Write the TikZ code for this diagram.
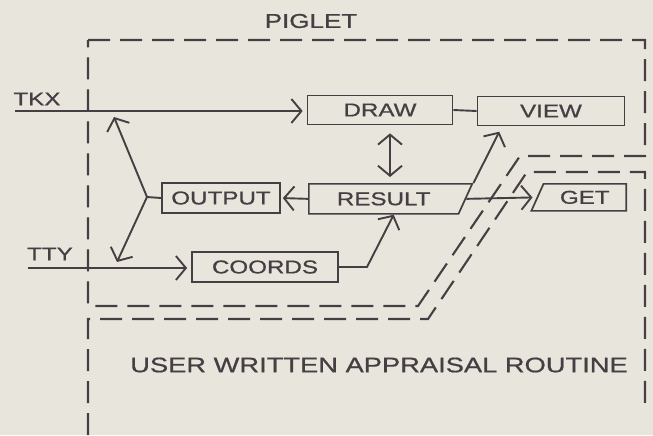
\documentclass[tikz,border=0pt]{standalone}
\usepackage{fontspec}
\newfontfamily\handfont[FakeStretch=1.3,FakeBold=0.8]{Liberation Sans}
\usepackage{xcolor}
\usepackage{tikz}
\usetikzlibrary{arrows.meta,calc,positioning,shapes.geometric}

\definecolor{paper}{RGB}{232,229,221}
\definecolor{ink}{RGB}{70,62,66}

\begin{document}
\begin{tikzpicture}[x=0.5pt,y=-0.5pt,
 routine/.style={draw=ink,line width=.85pt,inner sep=0pt,
   minimum height=14.5pt,text=ink,
   font=\handfont\fontsize{9.3}{9.3}\selectfont},
 slanted/.style={routine,trapezium,trapezium stretches=true},
 tag/.style={text=ink,inner sep=0pt,
   font=\handfont\fontsize{9.3}{9.3}\selectfont},
 flow/.style={-{Straight Barb[length=5pt,width=12pt]},draw=ink,
   line width=.95pt},
 twoway/.style={{Straight Barb[length=5pt,width=12pt]}-{Straight Barb[length=5pt,width=12pt]},
   draw=ink,line width=.95pt},
 fence/.style={draw=ink,line width=1.05pt,dash pattern=on 11pt off 5pt}
]
\fill[paper] (0,0) rectangle (653,435);
\useasboundingbox (0,0) rectangle (653,435);

% the routines
\node[routine,minimum width=72.5pt] (draw) at (380,110) {DRAW};
\node[routine,minimum width=73.5pt] (view) at (551,111) {VIEW};
\node[slanted,minimum width=82pt,minimum height=15pt,
      trapezium left angle=90,trapezium right angle=123,
      anchor=top left corner] (result) at (308,183) {RESULT};
\node[slanted,minimum width=47.5pt,minimum height=13.5pt,
      trapezium left angle=61,trapezium right angle=90,
      anchor=top right corner] (get) at (627,183) {GET};
\node[routine,minimum width=59pt,minimum height=15pt] (output) at (221,198) {OUTPUT};
\node[routine,minimum width=73pt,minimum height=15pt] (coords) at (265,267) {COORDS};

% labels
\node[tag] (tkx) at (37,99) {TKX};
\node[tag] (tty) at (50,254) {TTY};
\node[tag,font=\handfont\fontsize{10}{10}\selectfont] (piglet) at (311,21) {PIGLET};
\node[tag,font=\handfont\fontsize{10.5}{10.5}\selectfont] (appraisal)
 at (379,365) {USER WRITTEN APPRAISAL ROUTINE};

\coordinate (tkxin) at (15,111);
\coordinate (ttyin) at (28,268);
\coordinate (fork) at (147,197);
\coordinate (tkxhit) at (114,117);
\coordinate (ttyhit) at (117,262);
\coordinate (bend) at (367,267);

% connectors
\draw[flow,shorten >=2pt] (tkxin) -- (tkxin -| draw.west);
\draw[flow,shorten >=2pt] (ttyin) -- (ttyin -| coords.west);
\draw[draw=ink,line width=.95pt] (draw.east) -- (view.west);
\draw[twoway,shorten <=4pt,shorten >=3pt]
 ([xshift=5pt]draw.south) -- ([xshift=5pt]draw.south |- result.north);
\draw[flow,shorten >=3pt] (result.top right corner)
 -- ($(view.south west)!.17!(view.south east)$);
\draw[flow,shorten >=2pt] (result.east) -- (get.west);
\draw[flow,shorten >=1pt] (result.west) -- (output.east);
\draw[draw=ink,line width=.95pt] (output.west) -- (fork);
\draw[flow] (fork) -- (tkxhit);
\draw[flow] (fork) -- (ttyhit);
\draw[flow] (coords.east) -- (bend) -- ([xshift=5pt]result.south);

% boundaries
\draw[fence] (88,40) -- (645,40) -- (645,156) -- (520,156)
 -- (418,306) -- (88,306) -- cycle;
\draw[fence] (88,435) -- (88,319) -- (428,319) -- (527,172)
 -- (645,172) -- (645,410);
\end{tikzpicture}
\end{document}
